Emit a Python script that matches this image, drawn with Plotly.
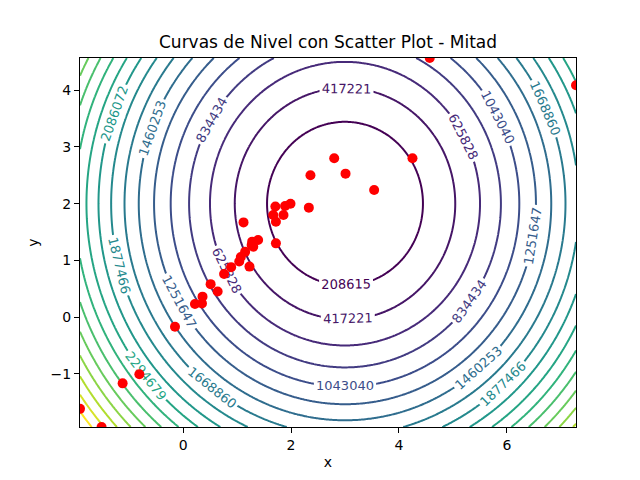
import numpy as np
import plotly.graph_objects as go

# Scatter points
pts_x = [-1.91, -1.51, -1.12, -0.81, -0.15, 0.22, 0.35, 0.36, 0.51, 0.64,
         0.76, 0.89, 1.04, 1.07, 1.15, 1.23, 1.27, 1.30, 1.28, 1.39,
         1.12, 1.72, 1.72, 1.67, 1.86, 1.71, 1.89, 1.99, 2.33, 2.36,
         2.80, 3.01, 3.54, 4.25, 4.57, 7.28]
pts_y = [-1.62, -1.94, -1.17, -1.01, -0.17, 0.23, 0.24, 0.36, 0.58, 0.45,
         0.76, 0.88, 0.98, 1.06, 1.15, 0.89, 1.27, 1.24, 1.33, 1.36,
         1.67, 1.30, 1.68, 1.80, 1.80, 1.95, 1.96, 2.00, 1.93, 2.50,
         2.80, 2.53, 2.24, 2.80, 4.57, 4.09]

center_x = 3.0
center_y = 2.0
scale = 1.0e5

level_min = 8.4
level_step = 208606.4
n_levels = 20
level_max = level_min + (n_levels - 1) * level_step

xmin, xmax = min(pts_x), max(pts_x)
ymin, ymax = min(pts_y), max(pts_y)
gx = np.linspace(xmin, xmax, 300)
gy = np.linspace(ymin, ymax, 300)
GX, GY = np.meshgrid(gx, gy)
Z = scale * ((GX - center_x) ** 2 + (GY - center_y) ** 2)

fig = go.Figure()
fig.add_trace(go.Contour(
    x=gx, y=gy, z=Z,
    colorscale="Viridis",
    zmin=level_min, zmax=level_max,
    autocontour=False,
    contours=dict(start=level_min + level_step,
                  end=level_max - level_step + 1,
                  size=level_step,
                  coloring="lines",
                  showlabels=True,
                  labelformat=".0f",
                  labelfont=dict(size=13, family="DejaVu Sans")),
    line=dict(width=2),
    showscale=False,
    hoverinfo="skip",
))
fig.add_trace(go.Scatter(
    x=pts_x, y=pts_y, mode="markers",
    marker=dict(color="red", size=10),
    showlegend=False,
))

axis_common = dict(
    showgrid=False, zeroline=False, showline=True, linecolor="black",
    linewidth=1, mirror=True, ticks="outside", ticklen=5, tickcolor="black",
    tickfont=dict(size=14, color="black"),
)
fig.update_layout(
    width=640, height=480,
    paper_bgcolor="white", plot_bgcolor="white",
    font=dict(family="DejaVu Sans", color="black"),
    margin=dict(l=80, r=64, t=58, b=53),
    title=dict(text="Curvas de Nivel con Scatter Plot - Mitad",
               x=0.5, xanchor="center", xref="paper",
               y=1 - 42 / 480, yanchor="middle",
               font=dict(size=17, color="black")),
    xaxis=dict(range=[xmin, xmax], dtick=2, tick0=0,
               title=dict(text="x", font=dict(size=14), standoff=5), **axis_common),
    yaxis=dict(range=[ymin, ymax], dtick=1, tick0=0,
               title=dict(text="y", font=dict(size=14), standoff=8), **axis_common),
    showlegend=False,
)
fig.write_html("out.html",
               config={"displayModeBar": False},
               post_script="document.body.style.margin='0';document.body.style.overflow='hidden';")
